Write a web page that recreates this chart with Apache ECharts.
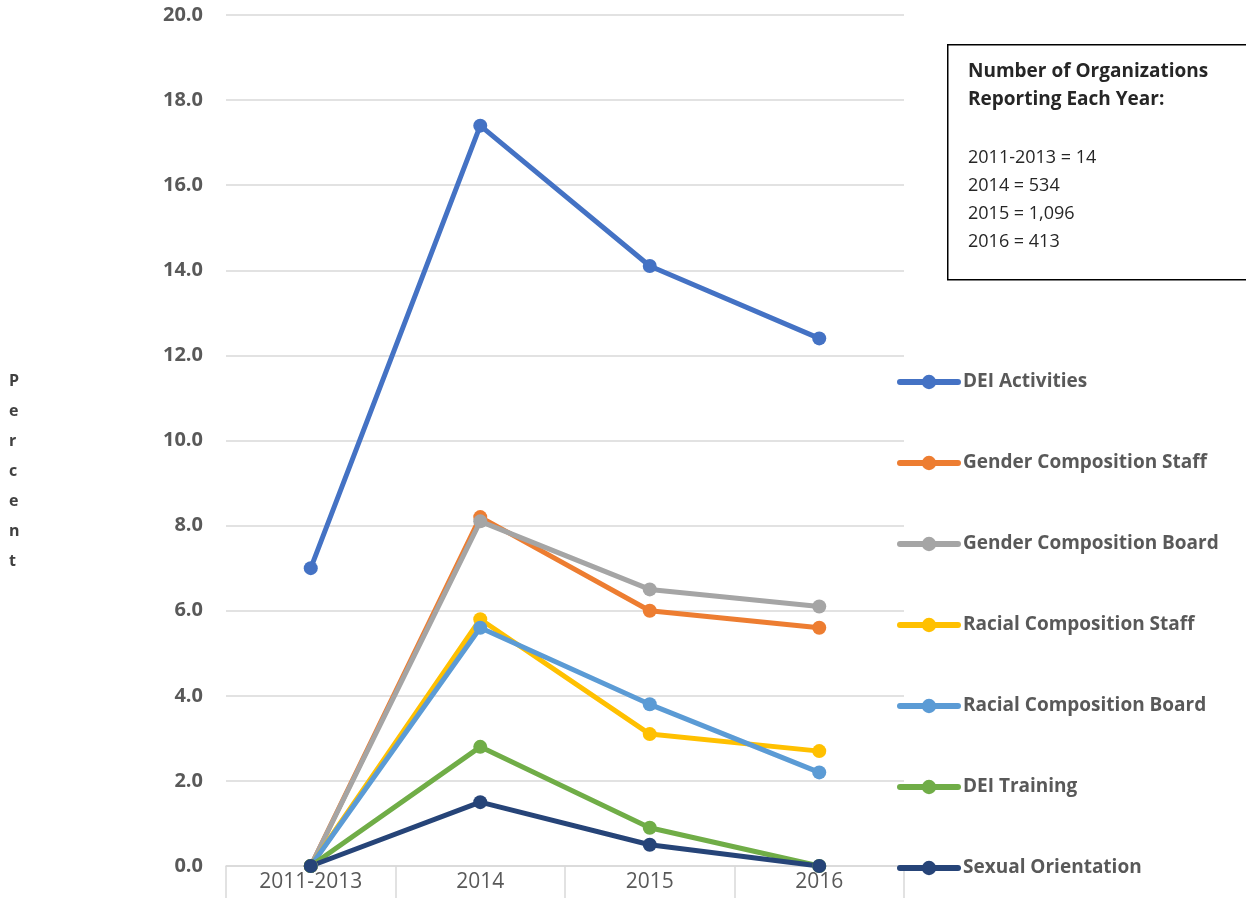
<!DOCTYPE html>
<html>
<head>
<meta charset="utf-8">
<title>DEI reporting</title>
<script src="https://cdn.jsdelivr.net/npm/echarts@6/dist/echarts.min.js"></script>
<style>
  html, body { margin: 0; padding: 0; background: #fff; }
  #chart { width: 1246px; height: 898px; }
</style>
</head>
<body>
<div id="chart"></div>
<script>
// categories and series values (percent)
const years = ['2011-2013', '2014', '2015', '2016']
const deiActivities = [7.0, 17.4, 14.1, 12.4]
const genderStaff = [0, 8.2, 6.0, 5.6]
const genderBoard = [0, 8.1, 6.5, 6.1]
const racialStaff = [0, 5.8, 3.1, 2.7]
const racialBoard = [0, 5.6, 3.8, 2.2]
const deiTraining = [0, 2.8, 0.9, 0.0]
const sexualOrientation = [0, 1.5, 0.5, 0.0]

const orgCountLines = ['2011-2013 = 14', '2014 = 534', '2015 = 1,096', '2016 = 413']

const seriesDefs = [
  { name: 'DEI Activities', data: deiActivities, color: '#4472C4' },
  { name: 'Gender Composition Staff', data: genderStaff, color: '#ED7D31' },
  { name: 'Gender Composition Board', data: genderBoard, color: '#A5A5A5' },
  { name: 'Racial Composition Staff', data: racialStaff, color: '#FFC000' },
  { name: 'Racial Composition Board', data: racialBoard, color: '#5B9BD5' },
  { name: 'DEI Training', data: deiTraining, color: '#70AD47' },
  { name: 'Sexual Orientation', data: sexualOrientation, color: '#264478' }
]

const font = '"Open Sans", sans-serif'
const chart = echarts.init(document.getElementById('chart'))

chart.setOption({
  animation: false,
  grid: {
    left: 226,
    right: 342,
    top: 15,
    bottom: 32
  },
  xAxis: {
    type: 'category',
    data: years,
    boundaryGap: true,
    axisLine: { lineStyle: { color: '#d9d9d9', width: 1.5 } },
    axisTick: { show: true, length: 32, interval: 0, lineStyle: { color: '#d9d9d9', width: 1.5 } },
    axisLabel: { color: '#595959', fontSize: 21, fontFamily: font, margin: 6 }
  },
  yAxis: {
    type: 'value',
    min: 0,
    max: 20,
    interval: 2,
    axisLine: { show: false },
    axisTick: { show: false },
    splitLine: { lineStyle: { color: '#d9d9d9', width: 1.5 } },
    axisLabel: {
      color: '#595959',
      fontSize: 20,
      fontWeight: 'bold',
      fontFamily: font,
      margin: 23,
      formatter: v => v.toFixed(1)
    }
  },
  legend: {
    orient: 'vertical',
    left: 892,
    top: 367,
    itemWidth: 58,
    itemHeight: 18,
    itemGap: 61,
    lineStyle: { width: 6, cap: 'round' },
    textStyle: { color: '#595959', fontSize: 19, fontWeight: 'bold', fontFamily: font, lineHeight: 20 },
    data: seriesDefs.map(s => s.name)
  },
  graphic: [
    {
      type: 'rect',
      left: 947,
      top: 44,
      shape: { width: 310, height: 235 },
      style: { fill: '#fff', stroke: '#000', lineWidth: 1.5 }
    },
    {
      type: 'text',
      left: 968,
      top: 58,
      style: {
        text: 'Number of Organizations\nReporting Each Year:',
        fill: '#262626',
        font: 'bold 19px ' + font,
        lineHeight: 28
      }
    },
    {
      type: 'text',
      left: 968,
      top: 144,
      style: {
        text: orgCountLines.join('\n'),
        fill: '#262626',
        font: '18px ' + font,
        lineHeight: 28
      }
    },
    {
      type: 'text',
      left: 9,
      top: 366,
      style: {
        text: 'Percent'.split('').join('\n'),
        fill: '#404040',
        font: 'bold 16px ' + font,
        lineHeight: 30
      }
    }
  ],
  series: seriesDefs.map(s => ({
    name: s.name,
    type: 'line',
    data: s.data,
    symbol: 'circle',
    symbolSize: 14,
    color: s.color,
    lineStyle: { color: s.color, width: 5, cap: 'round' },
    itemStyle: { color: s.color }
  }))
})
</script>
</body>
</html>
